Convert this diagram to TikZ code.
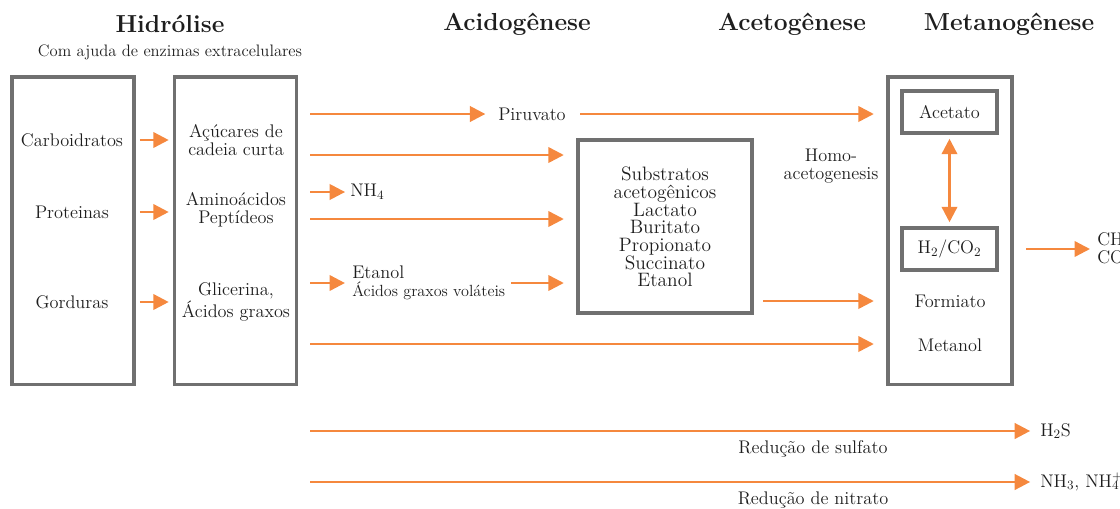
\documentclass[tikz,border=0pt]{standalone}
\usepackage{tikz}
\usetikzlibrary{arrows.meta,positioning}
\definecolor{white}{RGB}{255,255,255}
\definecolor{ink}{RGB}{30,30,30}
\definecolor{flow_orange}{RGB}{245,136,62}
\definecolor{box_gray}{RGB}{112,112,112}

\begin{document}
\begin{tikzpicture}[x=0.025cm,y=-0.025cm,
	stagebox/.style={draw=box_gray,line width=2.2pt,inner sep=0pt},
	body/.style={text=ink,font=\fontsize{13}{12.8}\selectfont,align=center,inner sep=0pt},
	small/.style={text=ink,font=\fontsize{11.5}{12}\selectfont,inner sep=0pt},
	stage/.style={text=ink,font=\fontsize{17.5}{21}\selectfont\bfseries,inner sep=0pt},
	flow/.style={draw=flow_orange,line width=1.8pt,-{Triangle[length=11pt,width=11pt]}},
	dflow/.style={draw=flow_orange,line width=1.8pt,{Triangle[length=11pt,width=11pt]}-{Triangle[length=11pt,width=11pt]}}]
	\useasboundingbox (0,0) rectangle (1120,508);
	
	% stage titles
	\node[stage] (t_hydro) at (170,24) {Hidrólise};
	\node[small,font=\fontsize{11.8}{13}\selectfont] (t_enz) at (170,52) {Com ajuda de enzimas extracelulares};
	\node[stage] (t_acido) at (517,24) {Acidogênese};
	\node[stage] (t_aceto) at (792,24) {Acetogênese};
	\node[stage] (t_metano) at (1009,24) {Metanogênese};
	
	% boxes
	\node[stagebox,minimum width=3.05cm,minimum height=7.675cm] (polym) at (73,230.5) {};
	\node[stagebox,minimum width=3.05cm,minimum height=7.675cm] (monom) at (235.5,230.5) {};
	\node[stagebox,minimum width=4.35cm,minimum height=4.325cm] (substr) at (665,226.5) {};
	\node[stagebox,minimum width=3.1cm,minimum height=7.675cm] (metano) at (950,230.5) {};
	\node[stagebox,minimum width=2.375cm,minimum height=1.05cm] (acetato) at (949.5,112) {};
	\node[stagebox,minimum width=2.375cm,minimum height=1.05cm] (h2co2) at (949.5,249) {};
	
	% texts
	\node[body] (carb) at (72,140) {Carboidratos};
	\node[body] (prot) at (72,212) {Proteinas};
	\node[body] (gord) at (72,302) {Gorduras};
	\node[body] (acuc) at (236,140) {Açúcares de\\cadeia curta};
	\node[body] (amino) at (236,210) {Aminoácidos\\Peptídeos};
	\node[body] (glic) at (236,302) {Glicerina,\\Ácidos graxos};
	\node[body,anchor=west] (piruv) at (498,114) {Piruvato};
	\node[body,anchor=west] (nh4) at (350,192) {NH\textsubscript{4}};
	\node[body,anchor=west,align=left] (etanol) at (352,283) {Etanol\\{\fontsize{11.5}{12}\selectfont Ácidos graxos voláteis}};
	\node[body,font=\fontsize{13.8}{12.6}\selectfont] (subst_txt) at (665,227) {Substratos\\acetogênicos\\Lactato\\Buritato\\Propionato\\Succinato\\Etanol};
	\node[body] (homo) at (831,166) {Homo-\\acetogenesis};
	\node[body] at (acetato) {Acetato};
	\node[body] at (h2co2) {H\textsubscript{2}/CO\textsubscript{2}};
	\node[body] (formiato) at (950,301) {Formiato};
	\node[body] (metanol) at (950,345) {Metanol};
	\node[body,anchor=west,align=left] (ch4) at (1097,249) {CH\textsubscript{4}\\CO\textsubscript{2}};
	\node[body,anchor=west] (h2s) at (1040,431) {H\textsubscript{2}S};
	\node[body,anchor=west] (nh3) at (1040,482) {NH\textsubscript{3}, NH\rlap{\textsuperscript{+}}\textsubscript{4}};
	\node[body] (sulf) at (813,449) {Redução de sulfato};
	\node[body] (nitr) at (813,500) {Redução de nitrato};
	
	% free arrow tails
	\coordinate (a1) at (310,114);
	\coordinate (a2) at (310,155);
	\coordinate (a3) at (310,192);
	\coordinate (a4) at (310,219);
	\coordinate (a5) at (310,283);
	\coordinate (a6) at (310,344);
	\coordinate (a7) at (310,431);
	\coordinate (a8) at (310,482);
	
	% hydrolysis arrows
	\foreach \x in {carb,prot,gord}
		\draw[flow,shorten <=3pt,shorten >=3pt] (\x -| polym.east) -- (\x -| monom.west);
	
	% acidogenesis arrows
	\draw[flow,shorten >=9pt] (a1) -- (piruv.west);
	\draw[flow,shorten <=10pt,shorten >=9pt] (piruv.east) -- (piruv -| metano.west);
	\draw[flow,shorten >=9pt] (a2) -- (a2 -| substr.west);
	\draw[flow,shorten >=3.5pt] (a3) -- (nh4.west);
	\draw[flow,shorten >=9pt] (a4) -- (a4 -| substr.west);
	\draw[flow,shorten >=5pt] (a5) -- (a5 -| etanol.west);
	\draw[flow,shorten <=4pt,shorten >=9pt] (a5 -| etanol.east) -- (a5 -| substr.west);
	\draw[flow,shorten >=9pt] (a6) -- (a6 -| metano.west);
	
	% acetogenesis and methanogenesis
	\draw[flow,shorten <=7pt,shorten >=9pt] (substr.east |- formiato) -- (formiato -| metano.west);
	\draw[dflow,shorten <=3pt,shorten >=3pt] (acetato) -- (h2co2);
	\draw[flow,shorten <=9pt,shorten >=5pt] (h2co2 -| metano.east) -- (ch4.west);
	
	% reductions
	\draw[flow,shorten >=7pt] (a7) -- (h2s.west);
	\draw[flow,shorten >=7pt] (a8) -- (a8 -| nh3.west);
\end{tikzpicture}
\end{document}
